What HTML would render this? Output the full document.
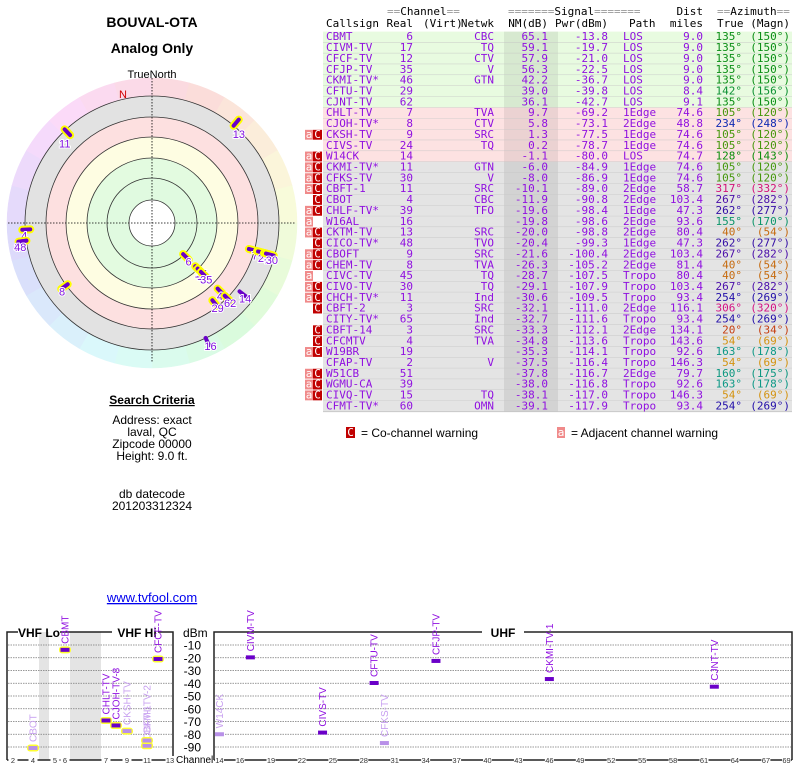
<!DOCTYPE html>
<html><head><meta charset="utf-8">
<style>
body{margin:0;background:#fff;}
svg{display:block;}
.mono{font-family:"DejaVu Sans Mono","Liberation Mono",monospace;font-size:11px;}
.sans{font-family:"Liberation Sans","DejaVu Sans",sans-serif;}
</style></head>
<body>
<svg id="page" width="800" height="768" viewBox="0 0 800 768" xmlns="http://www.w3.org/2000/svg">
<g id="polar"></g>
<g id="table"></g>
<g id="info">
<text class="sans" x="152" y="27" text-anchor="middle" font-size="14" font-weight="bold">BOUVAL-OTA</text>
<text class="sans" x="152" y="53" text-anchor="middle" font-size="14" font-weight="bold">Analog Only</text>
<text class="sans" x="152" y="404" text-anchor="middle" font-size="12" font-weight="bold" text-decoration="underline">Search Criteria</text>
<text class="sans" x="152" y="424" text-anchor="middle" font-size="12">Address: exact</text>
<text class="sans" x="152" y="436" text-anchor="middle" font-size="12">laval, QC</text>
<text class="sans" x="152" y="448" text-anchor="middle" font-size="12">Zipcode 00000</text>
<text class="sans" x="152" y="460" text-anchor="middle" font-size="12">Height: 9.0 ft.</text>
<text class="sans" x="152" y="498" text-anchor="middle" font-size="12">db datecode</text>
<text class="sans" x="152" y="510" text-anchor="middle" font-size="12">201203312324</text>
<text class="sans" x="152" y="602" text-anchor="middle" font-size="13" fill="#0000ee" text-decoration="underline">www.tvfool.com</text>
</g>
<g id="chart"></g>
</svg>
<script>
const NS="http://www.w3.org/2000/svg";
function mk(parent,tag,attrs,txt){const e=document.createElementNS(NS,tag);for(const k in attrs)e.setAttribute(k,attrs[k]);if(txt!==undefined)e.textContent=txt;parent.appendChild(e);return e;}

// ===== table data =====
const callsigns=["CBMT","CIVM-TV","CFCF-TV","CFJP-TV","CKMI-TV*","CFTU-TV","CJNT-TV","CHLT-TV","CJOH-TV*","CKSH-TV","CIVS-TV","W14CK","CKMI-TV*","CFKS-TV","CBFT-1","CBOT","CHLF-TV*","W16AL","CKTM-TV","CICO-TV*","CBOFT","CHEM-TV","CIVC-TV","CIVO-TV","CHCH-TV*","CBFT-2","CITY-TV*","CBFT-14","CFCMTV","W19BR","CFAP-TV","W51CB","WGMU-CA","CIVQ-TV","CFMT-TV*"];
const realCh=[6,17,12,35,46,29,62,7,8,9,24,14,11,30,11,4,39,16,13,48,9,8,45,30,11,3,65,3,4,19,2,51,39,15,60];
const networks=["CBC","TQ","CTV","V","GTN","","","TVA","CTV","SRC","TQ","","GTN","V","SRC","CBC","TFO","","SRC","TVO","SRC","TVA","TQ","TQ","Ind","SRC","Ind","SRC","TVA","","V","","","TQ","OMN"];
const nmDb=[65.1,59.1,57.9,56.3,42.2,39.0,36.1,9.7,5.8,1.3,0.2,-1.1,-6.0,-8.0,-10.1,-11.9,-19.6,-19.8,-20.0,-20.4,-21.6,-26.3,-28.7,-29.1,-30.6,-32.1,-32.7,-33.3,-34.8,-35.3,-37.5,-37.8,-38.0,-38.1,-39.1];
const pwrDbm=[-13.8,-19.7,-21.0,-22.5,-36.7,-39.8,-42.7,-69.2,-73.1,-77.5,-78.7,-80.0,-84.9,-86.9,-89.0,-90.8,-98.4,-98.6,-98.8,-99.3,-100.4,-105.2,-107.5,-107.9,-109.5,-111.0,-111.6,-112.1,-113.6,-114.1,-116.4,-116.7,-116.8,-117.0,-117.9];
const paths=["LOS","LOS","LOS","LOS","LOS","LOS","LOS","1Edge","2Edge","1Edge","1Edge","LOS","1Edge","1Edge","2Edge","2Edge","1Edge","2Edge","2Edge","1Edge","2Edge","2Edge","Tropo","Tropo","Tropo","2Edge","Tropo","2Edge","Tropo","Tropo","Tropo","2Edge","Tropo","Tropo","Tropo"];
const distMi=[9.0,9.0,9.0,9.0,9.0,8.4,9.1,74.6,48.8,74.6,74.6,74.7,74.6,74.6,58.7,103.4,47.3,93.6,80.4,47.3,103.4,81.4,80.4,103.4,93.4,116.1,93.4,134.1,143.6,92.6,146.3,79.7,92.6,146.3,93.4];
const azTrue=[135,135,135,135,135,142,135,105,234,105,105,128,105,105,317,267,262,155,40,262,267,40,40,267,254,306,254,20,54,163,54,160,163,54,254];
const azMagn=[150,150,150,150,150,156,150,120,248,120,120,143,120,120,332,282,277,170,54,277,282,54,54,282,269,320,269,34,69,178,69,175,178,69,269];
const warnings=["","","","","","","","","","aC","","aC","aC","aC","aC","C","aC","a","aC","C","aC","aC","a","aC","aC","C","","C","C","aC","","aC","aC","aC",""];

function fmt1(v){return v.toFixed(1);}
function azColor(a){
  const stops=[[0,350,40],[20,15,42],[40,30,42],[54,40,45],[105,95,32],[128,120,30],[135,125,30],[160,170,32],[234,230,38],[262,255,35],[306,325,45],[317,328,45],[360,350,40]];
  for(let i=0;i<stops.length-1;i++){if(a>=stops[i][0]&&a<=stops[i+1][0]){const t=(a-stops[i][0])/(stops[i+1][0]-stops[i][0]);
    const h=stops[i][1]+t*(stops[i+1][1]-stops[i][1]);const l=stops[i][2]+t*(stops[i+1][2]-stops[i][2]);return `hsl(${h},85%,${l}%)`;}}
  return '#000';
}

(function(){
  const T=document.getElementById('table');
  const purple="#9010e0";
  const rowH=10.86, top0=31.6, L=323, R=792;
  const h1=mk(T,'text',{class:'mono',x:387,y:15,fill:'#000'});
  
  h1.innerHTML='<tspan fill="#999">==</tspan>Channel<tspan fill="#999">==</tspan>';
  const h2=mk(T,'text',{class:'mono',x:508,y:15,fill:'#000'});
  
  h2.innerHTML='<tspan fill="#999">=======</tspan>Signal<tspan fill="#999">=======</tspan>';
  const h3=mk(T,'text',{class:'mono',x:703,y:15,'text-anchor':'end'},'Dist');
  
  const h4=mk(T,'text',{class:'mono',x:717,y:15});
  
  h4.innerHTML='<tspan fill="#999">==</tspan>Azimuth<tspan fill="#999">==</tspan>';
  const heads=[["Callsign",326,"start"],["Real",413,"end"],["(Virt)",423,"start"],["Netwk",494,"end"],["NM(dB)",548,"end"],["Pwr(dBm)",608,"end"],["Path",629,"start"],["miles",703,"end"],["True",717,"start"],["(Magn)",790,"end"]];
  heads.forEach(h=>{const e=mk(T,'text',{class:'mono',x:h[1],y:27,'text-anchor':h[2]},h[0]);
    });
  const n=callsigns.length;
  for(let i=0;i<n;i++){
    const y=top0+i*rowH;
    const bg=i<7?'#e8fbe0':(i<12?'#fde2e2':'#e4e4e4');
    const r=mk(T,'rect',{x:L,y:y,width:R-L,height:rowH,fill:bg});
    
    mk(T,'rect',{x:504,y:y,width:54,height:rowH,fill:'rgba(0,0,0,0.07)'});
    mk(T,'line',{x1:L,x2:R,y1:y+rowH,y2:y+rowH,stroke:'#c4c4c4','stroke-width':0.8});
    const by=y+8.6;
    const cells=[[callsigns[i],326,'start',purple],[String(realCh[i]),413,'end',purple],[networks[i],494,'end',purple],[fmt1(nmDb[i]),548,'end',purple],[fmt1(pwrDbm[i]),608,'end',purple],[paths[i],623,'start',purple],[fmt1(distMi[i]),703,'end',purple],[azTrue[i]+'°',742,'end',azColor(azTrue[i])],['('+azMagn[i]+'°)',790,'end',azColor(azTrue[i])]];
    cells.forEach(c=>{const e=mk(T,'text',{class:'mono',x:c[1],y:by,'text-anchor':c[2],fill:c[3]},c[0]);
      });
    const w=warnings[i];
    if(w.includes('a')){const b=mk(T,'rect',{x:305,y:y+0.5,width:8,height:rowH-1,fill:'#f08a8a'});
      
      mk(T,'text',{class:'mono',x:309,y:by,'text-anchor':'middle',fill:'#fff'},'a');}
    if(w.includes('C')){const b=mk(T,'rect',{x:313,y:y+0.5,width:9,height:rowH-1,fill:'#c00000'});
      
      mk(T,'text',{class:'mono',x:317.5,y:by,'text-anchor':'middle',fill:'#fff'},'C');}
  }
  const ly=435;
  const lb1=mk(T,'rect',{x:346,y:427,width:9,height:11,fill:'#c00000'});
  
  mk(T,'text',{class:'mono',x:350.5,y:ly+1,'text-anchor':'middle',fill:'#fff'},'C');
  const lt1=mk(T,'text',{class:'sans',x:361,y:ly+2,'font-size':12},'= Co-channel warning');
  
  const lb2=mk(T,'rect',{x:557,y:427,width:8,height:11,fill:'#f08a8a'});
  
  mk(T,'text',{class:'mono',x:561,y:ly+1,'text-anchor':'middle',fill:'#fff'},'a');
  const lt2=mk(T,'text',{class:'sans',x:571,y:ly+2,'font-size':12},'= Adjacent channel warning');
  
})();

// ===== polar plot =====
const polarStrong=[true,true,true,true,true,true,true,true,true,true,true,false,true,true,true,true,true,false,true,false,false,false,false,false,false,false,false,false,false,false,false,false,false,false,false];
(function(){
  const P=document.getElementById('polar');
  const cx=152,cy=223;
  for(let a=0;a<360;a+=15){
    const a1=(a-90)*Math.PI/180,a2=(a+15-90)*Math.PI/180;
    const col=`hsl(${(a*1.0+350)%360},80%,92%)`;
    mk(P,'path',{d:`M${cx},${cy} L${cx+145*Math.cos(a1)},${cy+145*Math.sin(a1)} A145,145 0 0 1 ${cx+145*Math.cos(a2)},${cy+145*Math.sin(a2)} Z`,fill:col,stroke:col,'stroke-width':0.5});
  }
  const rings=[[127,'#e2e2e2'],[106,'#fde0e0'],[86,'#fefde2'],[65,'#e3fbe0'],[45,'#e0fae0'],[23,'#ffffff']];
  rings.forEach(r=>{const c=mk(P,'circle',{cx:cx,cy:cy,r:r[0],fill:r[1],stroke:'#333','stroke-width':0.8});
    });
  mk(P,'line',{x1:8,x2:296,y1:cy,y2:cy,stroke:'#000','stroke-width':0.8,'stroke-dasharray':'1.5,1.5'});
  mk(P,'line',{x1:cx,x2:cx,y1:78,y2:362,stroke:'#000','stroke-width':0.8,'stroke-dasharray':'1.5,1.5'});
  const tn=mk(P,'text',{class:'sans',x:cx,y:78,'text-anchor':'middle','font-size':11},'TrueNorth');
  
  const nl=mk(P,'text',{class:'sans',x:123,y:98,'text-anchor':'middle','font-size':11,fill:'#d00000'},'N');
  
  function rad(nm){const s=[[70,30],[56,70],[36,103],[10,100],[0,110],[-12,122],[-20,127],[-45,127]];
    if(nm>=70)return 30;for(let i=0;i<s.length-1;i++){if(nm<=s[i][0]&&nm>=s[i+1][0]){const t=(s[i][0]-nm)/(s[i][0]-s[i+1][0]);return s[i][1]+t*(s[i+1][1]-s[i][1]);}}return 127;}
  for(let i=0;i<callsigns.length;i++){
    if(nmDb[i]<-21)continue;
    const r=rad(nmDb[i]);const a=(azTrue[i]-90)*Math.PI/180;
    const x=cx+r*Math.cos(a),y=cy+r*Math.sin(a);
    const x2=cx+(r+8)*Math.cos(a),y2=cy+(r+8)*Math.sin(a);
    if(polarStrong[i]){mk(P,'line',{x1:x,y1:y,x2:x2,y2:y2,stroke:'#ffff00','stroke-width':8,'stroke-linecap':'round'});}
    const m=mk(P,'line',{x1:x,y1:y,x2:x2,y2:y2,stroke:'#6a00c8','stroke-width':4,'stroke-linecap':'round'});
    
    const lx=cx+(r+2)*Math.cos(a)+ (Math.cos(a)>0?4:-4), ly=cy+(r+2)*Math.sin(a)+(Math.sin(a)>0?10:14);
    const t=mk(P,'text',{class:'sans',x:lx,y:ly,'text-anchor':'middle','font-size':11,fill:'#8010e0',stroke:'#fff','stroke-width':2,'paint-order':'stroke'},String(realCh[i]));
    
  }
})();

// ===== channel chart =====
const chartNames=["CBOT","CBMT","CHLT-TV","CJOH-TV-8","CKSH-TV","CBFT-1","CKMI-TV-2","CFCF-TV","W14CK","CIVM-TV","CIVS-TV","CFTU-TV","CFKS-TV","CFJP-TV","CKMI-TV-1","CJNT-TV"];
const chartChannels=[4,6,7,8,9,11,11,12,14,17,24,29,30,35,46,62];
const chartDbm=[-90.8,-13.8,-69.2,-73.1,-77.5,-89.0,-84.9,-21.0,-80.0,-19.7,-78.7,-39.8,-86.9,-22.5,-36.7,-42.7];
const chartWeak=[true,false,false,false,true,true,true,false,true,false,false,false,true,false,false,false];
const chartHalo=[true,true,true,true,true,true,true,true,false,false,false,false,false,false,false,false];
const dbmTicks=[-10,-20,-30,-40,-50,-60,-70,-80,-90];
const vhfTickCh=[2,4,5,6,7,9,11,13];
const uhfTickCh=[14,16,19,22,25,28,31,34,37,40,43,46,49,52,55,58,61,64,67,69];
(function(){
  const C=document.getElementById('chart');
  const yOf=v=>645+(-10-v)*1.275;
  const vhfPos={2:13,3:23,4:33,5:55,6:65,7:106,8:116,9:127,10:137,11:147,12:158,13:170};
  const xOf=ch=>ch<=13?vhfPos[ch]:271+(ch-19)*10.31;
  mk(C,'rect',{x:39,y:632,width:10,height:128,fill:'#e4e4e4'});
  mk(C,'rect',{x:70,y:632,width:31,height:128,fill:'#e4e4e4'});
  const bx1=mk(C,'path',{d:'M7,760 V632 H18 M60,632 H112 M158,632 H173 V760',fill:'none',stroke:'#222','stroke-width':1.5});
  
  const bx2=mk(C,'path',{d:'M214,760 V632 H482 M524,632 H792 V760',fill:'none',stroke:'#222','stroke-width':1.5});
  
  [['VHF Lo',39],['VHF Hi',137],['UHF',503]].forEach(l=>{const e=mk(C,'text',{class:'sans',x:l[1],y:637,'text-anchor':'middle','font-size':12,'font-weight':'bold'},l[0]);
    });
  const du=mk(C,'text',{class:'sans',x:183,y:637,'font-size':12},'dBm');
  
  dbmTicks.forEach(v=>{const y=yOf(v);
    mk(C,'line',{x1:8,x2:172,y1:y,y2:y,stroke:'#777','stroke-width':0.8,'stroke-dasharray':'1.5,1'});
    mk(C,'line',{x1:215,x2:791,y1:y,y2:y,stroke:'#777','stroke-width':0.8,'stroke-dasharray':'1.5,1'});
    const t=mk(C,'text',{class:'sans',x:201,y:y+4.5,'text-anchor':'end','font-size':12},String(v));
    });
  mk(C,'line',{x1:7,x2:173,y1:760,y2:760,stroke:'#222','stroke-width':1.5});
  mk(C,'line',{x1:214,x2:792,y1:760,y2:760,stroke:'#222','stroke-width':1.5});
  const cl=mk(C,'text',{class:'sans',x:176,y:763,'font-size':10},'Channel');
  
  vhfTickCh.concat(uhfTickCh).forEach(ch=>{const x=xOf(ch);
    mk(C,'rect',{x:x-4.5,y:756,width:9,height:9,fill:'#fff'});
    const t=mk(C,'text',{class:'sans',x:x,y:763,'text-anchor':'middle','font-size':7.5,fill:'#333'},String(ch));
    });
  for(let i=0;i<chartNames.length;i++){
    const x=xOf(chartChannels[i]),y=yOf(chartDbm[i]);
    if(chartHalo[i]){const h=mk(C,'rect',{x:x-6,y:y-3.5,width:12,height:7,rx:3,fill:'#ffff30'});
      }
    const b=mk(C,'rect',{x:x-4.5,y:y-2,width:9,height:4,fill:chartWeak[i]?'#b890e8':'#6a00c8'});
    
    const t=mk(C,'text',{class:'sans',x:0,y:0,'font-size':10,fill:chartWeak[i]?'#c8a0f0':'#9010e0',transform:`translate(${x+3.5},${y-6}) rotate(-90)`},chartNames[i]);
    
  }
})();
</script>
</body></html>
